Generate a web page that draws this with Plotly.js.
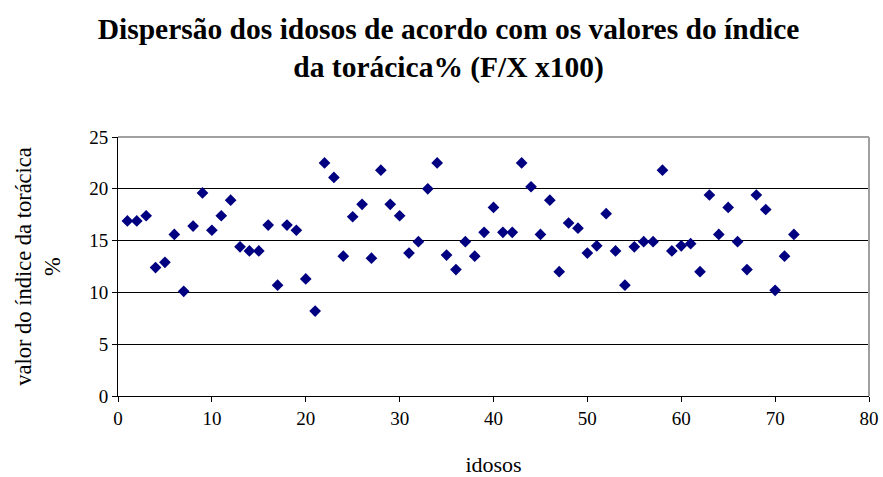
<!DOCTYPE html>
<html>
<head>
<meta charset="utf-8">
<script src="https://cdn.plot.ly/plotly-3.0.1.min.js"></script>
<style>html,body{margin:0;padding:0;background:#fff;}#chart{width:883px;height:477px;}</style>
</head>
<body>
<div id="chart"></div>
<script>
const idosos = [1,2,3,4,5,6,7,8,9,10,11,12,13,14,15,16,17,18,19,20,21,22,23,24,25,26,27,28,29,30,31,32,33,34,35,36,37,38,39,40,41,42,43,44,45,46,47,48,49,50,51,52,53,54,55,56,57,58,59,60,61,62,63,64,65,66,67,68,69,70,71,72];
const indiceToracica = [
  16.9, 16.9, 17.4, 12.4, 12.9, 15.6, 10.1, 16.4, 19.6, 16.0,
  17.4, 18.9, 14.4, 14.0, 14.0, 16.5, 10.7, 16.5, 16.0, 11.3,
  8.2, 22.5, 21.1, 13.5, 17.3, 18.5, 13.3, 21.8, 18.5, 17.4,
  13.8, 14.9, 20.0, 22.5, 13.6, 12.2, 14.9, 13.5, 15.8, 18.2,
  15.8, 15.8, 22.5, 20.2, 15.6, 18.9, 12.0, 16.7, 16.2, 13.8,
  14.5, 17.6, 14.0, 10.7, 14.4, 14.9, 14.9, 21.8, 14.0, 14.5,
  14.7, 12.0, 19.4, 15.6, 18.2, 14.9, 12.2, 19.4, 18.0, 10.2,
  13.5, 15.6
];
const xTicks = [0,10,20,30,40,50,60,70,80];
const yTicks = [0,5,10,15,20,25];
const titleText = 'Dispersão dos idosos de acordo com os valores do índice<br>da torácica% (F/X x100)';
const xTitle = 'idosos';
const yTitle = 'valor do índice da torácica<br>%';

const serif = '"Liberation Serif", "Times New Roman", serif';

const trace = {
  type: 'scatter',
  mode: 'markers',
  x: idosos,
  y: indiceToracica,
  marker: {symbol: 'diamond', size: 9, color: '#000080', line: {width: 0}},
  hoverinfo: 'x+y'
};

const layout = {
  width: 883, height: 477,
  paper_bgcolor: '#ffffff', plot_bgcolor: '#ffffff',
  margin: {l: 118, r: 14, t: 137, b: 81},
  showlegend: false,
  title: {
    text: titleText,
    font: {family: serif, size: 29.5, color: '#000', weight: 'bold'},
    x: 0.508, xanchor: 'center', xref: 'container',
    y: 0.918, yanchor: 'top', yref: 'container'
  },
  xaxis: {
    range: [0, 80], tickvals: xTicks, ticktext: xTicks.map(String),
    showgrid: false, zeroline: false,
    showline: true, linecolor: '#000', linewidth: 1,
    ticks: 'outside', ticklen: 5, tickcolor: '#000',
    tickfont: {family: serif, size: 19, color: '#000'},
    title: {text: xTitle, font: {family: serif, size: 22, color: '#000'}, standoff: 28}
  },
  yaxis: {
    range: [0, 25], tickvals: yTicks, ticktext: yTicks.map(String),
    showgrid: true, gridcolor: '#000', gridwidth: 1,
    zeroline: false,
    showline: true, linecolor: '#000', linewidth: 1,
    ticks: 'outside', ticklen: 5, tickcolor: '#000',
    tickfont: {family: serif, size: 19, color: '#000'},
    title: {text: yTitle, font: {family: serif, size: 22.5, color: '#000'}, standoff: 22}
  },
  shapes: [
    {type: 'line', xref: 'paper', yref: 'paper', x0: 0, x1: 1, y0: 1, y1: 1, line: {color: '#a0a0a0', width: 2}, layer: 'above'},
    {type: 'line', xref: 'paper', yref: 'paper', x0: 1, x1: 1, y0: 0, y1: 1, line: {color: '#a0a0a0', width: 2}, layer: 'above'}
  ]
};

Plotly.newPlot('chart', [trace], layout, {displayModeBar: false, staticPlot: true});
</script>
</body>
</html>
